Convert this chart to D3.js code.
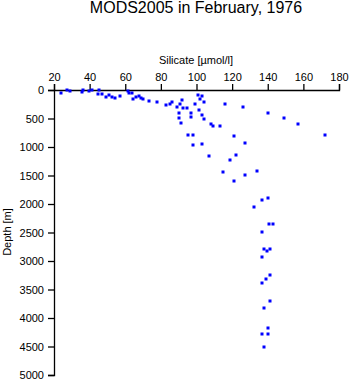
<!DOCTYPE html>
<html><head><meta charset="utf-8">
<script src="https://cdn.jsdelivr.net/npm/d3@7"></script>
<style>body{margin:0;background:#fff}svg{display:block}text{font-family:"Liberation Sans",Arial,sans-serif}</style>
</head><body>
<script>
const title = "MODS2005 in February, 1976";
const xLabel = "Silicate [\u00b5mol/l]";
const yLabel = "Depth [m]";
const xTicks = [20,40,60,80,100,120,140,160,180];
const yTicks = [0,500,1000,1500,2000,2500,3000,3500,4000,4500,5000];
const silicate = [24.1,27.1,29,35.7,36.5,39.6,41.2,45.1,44.9,46.9,49.2,51,52.6,54.2,57,61.4,62.3,63.8,64.2,66,67.5,68.7,70.1,73.2,78,
  83,85.1,86.4,89.2,90.7,92,92.4,94.6,90.3,96.7,90.2,91.1,97.1,99.3,101,102.1,103.3,101.2,104.4,103.3,104.2,108.3,109.4,113,116.2,
  126.3,140.3,149.1,157.2,172,121.2,127.2,103.3,95.4,98.2,98.2,107.2,122.2,118.8,115,127.2,134.1,121.2,
  140.3,136.9,132.1,140.9,143.1,136.9,138.1,139.3,141.1,136.9,141.1,139,136.9,141.1,138.1,140.1,136.9,140.3,138.1];
const depth = [47,5,23,35,5,18,0,5,65,70,128,93,117,135,111,12,47,58,158,128,111,140,163,198,210,
  257,251,211,304,251,175,316,316,398,398,497,585,479,251,88,158,111,345,211,439,515,602,626,626,251,
  304,404,497,602,795,813,930,953,783,795,970,1158,1140,1228,1439,1497,1415,1602,
  1889,1924,2058,2357,2351,2497,2795,2830,2795,2936,3251,3321,3392,3708,3830,4181,4275,4275,4515];

const W = 351, H = 384;
const svg = d3.select("body").append("svg").attr("width", W).attr("height", H);
const x = d3.scaleLinear().domain([20,180]).range([54,339]);
const y = d3.scaleLinear().domain([0,5000]).range([90,375]);

svg.append("text").attr("x",196).attr("y",13).attr("text-anchor","middle")
  .attr("font-size",16).text(title);

const xa = svg.append("g").attr("transform","translate(0,90)")
  .call(d3.axisTop(x).tickValues(xTicks).tickSize(6).tickPadding(3).tickFormat(d3.format("d")));
const ya = svg.append("g").attr("transform","translate(54,0)")
  .call(d3.axisLeft(y).tickValues(yTicks).tickSize(6).tickPadding(4).tickFormat(d3.format("d")));
[xa,ya].forEach(a=>{
  a.select(".domain").attr("stroke","#000").attr("stroke-width",1.3);
  a.selectAll(".tick line").attr("stroke","#000").attr("stroke-width",1.3);
  a.selectAll("text").attr("font-size",11).attr("fill","#000")
    .attr("font-family","'Liberation Sans',Arial,sans-serif");
});

svg.append("text").attr("x",196).attr("y",64).attr("text-anchor","middle")
  .attr("font-size",11).text(xLabel);
svg.append("text").attr("transform","translate(11,232) rotate(-90)").attr("text-anchor","middle")
  .attr("font-size",11).text(yLabel);

svg.append("g").selectAll("rect").data(silicate.map((s,i)=>[s,depth[i]])).join("rect")
  .attr("x",d=>Math.round(x(d[0]))-1.5).attr("y",d=>Math.round(y(d[1]))-1.5)
  .attr("width",3).attr("height",3).attr("fill","#0000ff");
</script>
</body></html>
